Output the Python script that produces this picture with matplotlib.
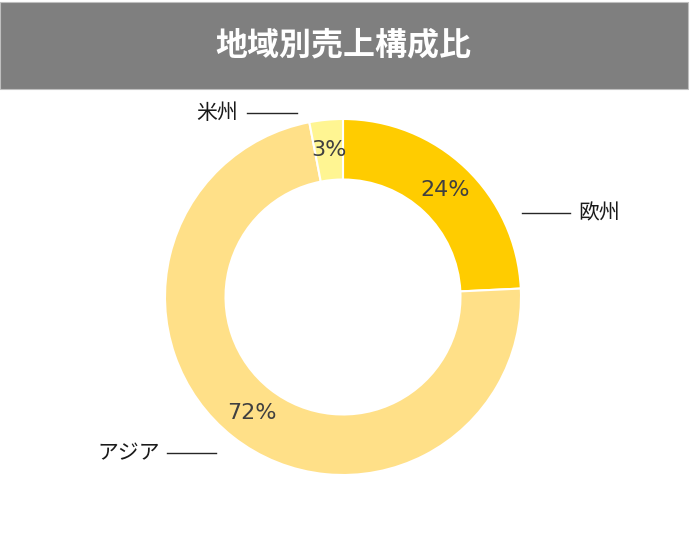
import matplotlib
matplotlib.use("Agg")
import matplotlib.pyplot as plt
from matplotlib.patches import Rectangle

plt.rcParams['font.family'] = ['Noto Sans CJK JP', 'DejaVu Sans']

title = "地域別売上構成比"
regions = ["欧州", "アジア", "米州"]
shares = [24, 72, 3]
colors = ["#FFCC00", "#FFE088", "#FFF592"]

W, H = 690, 548
fig = plt.figure(figsize=(W / 100, H / 100), dpi=100)
fig.patch.set_facecolor("white")

# title bar
fig.patches.append(Rectangle((0, 1 - 89 / H), 688 / W, 87 / H, transform=fig.transFigure,
                             facecolor="#7F7F7F", edgecolor="#BFBFBF", linewidth=0.8))
fig.text(343 / W, 1 - 45 / H, title, ha="center", va="center", color="white",
         fontsize=23, fontweight="bold")

cx, cy, R = 343, 297, 178
ax = fig.add_axes([(cx - R) / W, (H - cy - R) / H, 2 * R / W, 2 * R / H])

wedges, texts, autotexts = ax.pie(
    shares, colors=colors, startangle=90, counterclock=False, radius=1,
    wedgeprops=dict(width=0.34, edgecolor="white", linewidth=1.5),
    autopct=lambda p: f"{p * sum(shares) / 100:.0f}%", pctdistance=0.83,
    textprops=dict(color="#404040", fontsize=16, family=["DejaVu Sans"]))
ax.set_xlim(-1, 1)
ax.set_ylim(-1, 1)
ax.set_aspect("equal")
ax.axis("off")

def d(px, py):
    return (px - cx) / R, (cy - py) / R

# leader lines and labels
lc = "#262626"
fs = 15
# 欧州
x0, y0 = d(522, 213); x1, _ = d(570, 213)
ax.plot([x0, x1], [y0, y0], color=lc, lw=1, clip_on=False)
ax.text(d(578, 213)[0], y0, regions[0], ha="left", va="center", fontsize=fs, color="#1a1a1a")
# アジア
x0, y0 = d(167, 453); x1, _ = d(216, 453)
ax.plot([x0, x1], [y0, y0], color=lc, lw=1, clip_on=False)
ax.text(d(160, 453)[0], y0, regions[1], ha="right", va="center", fontsize=fs, color="#1a1a1a")
# 米州
x0, y0 = d(247, 113); x1, _ = d(297, 113)
ax.plot([x0, x1], [y0, y0], color=lc, lw=1, clip_on=False)
ax.text(d(238, 113)[0], y0, regions[2], ha="right", va="center", fontsize=fs, color="#1a1a1a")

fig.savefig("out.png", dpi=100)
